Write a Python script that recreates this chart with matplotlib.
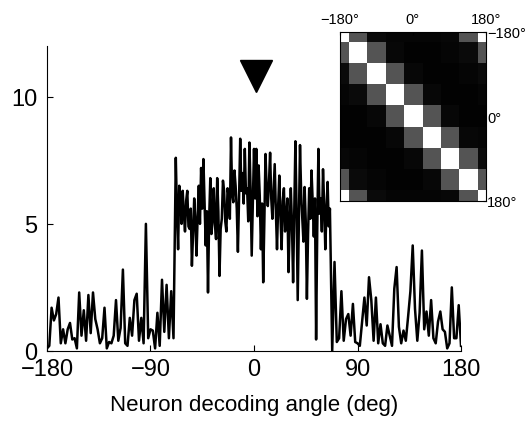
import numpy as np
import matplotlib
matplotlib.use('Agg')
import matplotlib.pyplot as plt

plt.rcParams['font.family'] = ['Liberation Sans', 'DejaVu Sans']

# spike count per decoding angle
# flanks sampled every 2 deg, tuned centre every 1 deg
angles_left = list(range(-180, -69, 2))
counts_left = [
    0.1, 0.2, 1.7, 1.2, 1.45, 2.1, 0.3, 0.85, 0.3, 0.85, 1.1, 0.45, 0.5, 0.1, 2.3, 0.6,
    1.6, 0.4, 2.2, 0.7, 2.3, 1.25, 0.85, 0.3, 0.5, 1.7, 0.1, 0.35, 0.3, 0.6, 2.0,
    0.4, 0.9, 3.2, 0.3, 0.2, 1.3, 0.6, 2.0, 2.25, 0.4, 1.3, 0.3, 5.0, 0.5, 0.85, 0.8,
    0.1, 1.5, 0.2, 2.8, 0.75, 2.6, 0.5, 2.35, 0.5,
]

angles_mid = list(range(-68, 67))
counts_mid = [
    7.6, 5.5, 4.0, 6.5, 6.1, 5.0, 6.3, 5.4, 4.7, 5.9,      # -68
    6.3, 4.9, 4.8, 5.6, 3.35, 4.6, 6.0, 5.1, 3.75, 5.3,    # -58
    6.5, 5.0, 7.2, 5.6, 7.55, 5.8, 4.15, 5.5, 2.3, 5.2,    # -48
    6.8, 4.6, 5.2, 6.4, 5.0, 4.4, 6.8, 5.5, 2.95, 4.8,     # -38
    5.2, 6.7, 6.3, 5.1, 4.7, 6.4, 6.1, 5.2, 8.4, 6.2,      # -28
    5.85, 7.1, 6.5, 5.6, 3.9, 6.0, 8.35, 6.3, 7.0, 5.8,    # -18
    7.95, 6.2, 6.4, 5.1, 8.2, 6.4, 3.75, 5.9, 7.95, 6.0,   # -8
    7.95, 5.3, 7.3, 6.1, 4.0, 5.8, 2.7, 5.1, 7.75, 6.4,    # 2
    5.7, 6.6, 7.8, 6.0, 5.2, 6.3, 7.35, 5.5, 4.0, 5.7,     # 12
    6.9, 5.3, 4.0, 5.9, 6.4, 4.7, 5.2, 6.0, 3.1, 4.9,      # 22
    6.4, 5.0, 2.7, 5.4, 8.25, 5.6, 2.0, 5.0, 8.1, 6.2,     # 32
    5.2, 4.3, 6.45, 5.1, 2.05, 4.6, 6.4, 5.2, 7.1, 5.9,    # 42
    4.5, 6.0, 0.45, 4.8, 7.95, 5.4, 6.0, 4.7, 7.15, 5.8,   # 52
    4.0, 5.5, 6.65, 4.9, 5.6,                              # 62
]

angles_right = list(range(68, 181, 2))
counts_right = [
    0.0, 3.5, 0.35, 0.5, 2.35, 0.4, 1.25, 1.45, 0.6, 1.85, 0.35, 0.3, 0.2, 1.15, 2.1, 1.0,
    2.9, 2.0, 0.4, 2.1, 0.3, 1.05, 0.3, 0.2, 1.0, 0.6, 0.2, 2.45, 3.3, 0.95, 0.3, 0.8,
    0.4, 1.35, 2.35, 4.15, 1.65, 0.4, 1.5, 3.95, 0.85, 1.55, 0.6, 2.0, 0.5, 0.3, 1.15, 1.55,
    0.85, 0.75, 0.1, 0.3, 2.5, 0.5, 0.5, 1.8, 0.2,
]

preferred_angle = 2
preferred_level = 10.8

# inset: similarity between stimulus directions
inset_angles = [-180, -135, -90, -45, 0, 45, 90, 135, 180]
similarity = [
    [1.00, 0.33, 0.04, 0.02, 0.02, 0.02, 0.03, 0.33, 1.00],
    [0.33, 1.00, 0.33, 0.03, 0.01, 0.01, 0.02, 0.04, 0.33],
    [0.04, 0.33, 1.00, 0.33, 0.03, 0.01, 0.01, 0.02, 0.04],
    [0.02, 0.04, 0.33, 1.00, 0.33, 0.03, 0.01, 0.01, 0.02],
    [0.01, 0.01, 0.03, 0.33, 1.00, 0.33, 0.03, 0.01, 0.01],
    [0.01, 0.01, 0.01, 0.03, 0.33, 1.00, 0.33, 0.03, 0.02],
    [0.03, 0.02, 0.01, 0.01, 0.03, 0.33, 1.00, 0.33, 0.04],
    [0.33, 0.04, 0.02, 0.01, 0.01, 0.03, 0.33, 1.00, 0.33],
    [1.00, 0.33, 0.04, 0.02, 0.02, 0.02, 0.03, 0.33, 1.00],
]
inset_ticks = [-180, 0, 180]
inset_labels = ['\u2212180\u00b0', '0\u00b0', '180\u00b0']

angles = angles_left + angles_mid + angles_right
counts = counts_left + counts_mid + counts_right
assert len(angles) == len(counts)

fig = plt.figure(figsize=(5.31, 4.35), dpi=100)
ax = fig.add_axes([0.0885, 0.191, 0.7797, 0.701])

ax.plot(angles, counts, color='black', linewidth=1.8)
ax.plot(preferred_angle, preferred_level, marker='v', color='black',
        markersize=23, linestyle='none')

ax.set_xlim(-180, 180)
ax.set_ylim(0, 12)
ax.set_xticks([-180, -90, 0, 90, 180])
ax.set_xticklabels(['\u2212180', '\u221290', '0', '90', '180'])
ax.set_yticks([0, 5, 10])
ax.tick_params(direction='in', length=4, labelsize=17, width=0.8)
ax.tick_params(axis='y', pad=7)
ax.tick_params(axis='x', pad=5)
ax.spines['top'].set_visible(False)
ax.spines['right'].set_visible(False)
for s in ('left', 'bottom'):
    ax.spines[s].set_linewidth(0.8)
ax.set_xlabel('Neuron decoding angle (deg)', fontsize=16, labelpad=10)

# inset
ax_in = fig.add_axes([0.640, 0.536, 0.275, 0.389])
half = (inset_angles[1] - inset_angles[0]) / 2
ax_in.imshow(np.array(similarity), cmap='gray', vmin=0, vmax=1, aspect='auto',
             interpolation='nearest',
             extent=(inset_angles[0] - half, inset_angles[-1] + half,
                     inset_angles[-1] + half, inset_angles[0] - half))
ax_in.set_xlim(-180, 180)
ax_in.set_ylim(180, -180)
ax_in.xaxis.tick_top()
ax_in.yaxis.tick_right()
ax_in.set_xticks(inset_ticks)
ax_in.set_xticklabels(inset_labels)
ax_in.set_yticks(inset_ticks)
ax_in.set_yticklabels(inset_labels)
ax_in.tick_params(direction='in', length=2, labelsize=10.5)
ax_in.tick_params(axis='x', pad=4)
ax_in.tick_params(axis='y', pad=1)
for s in ax_in.spines.values():
    s.set_linewidth(0.8)

fig.savefig('out.png', dpi=100)
